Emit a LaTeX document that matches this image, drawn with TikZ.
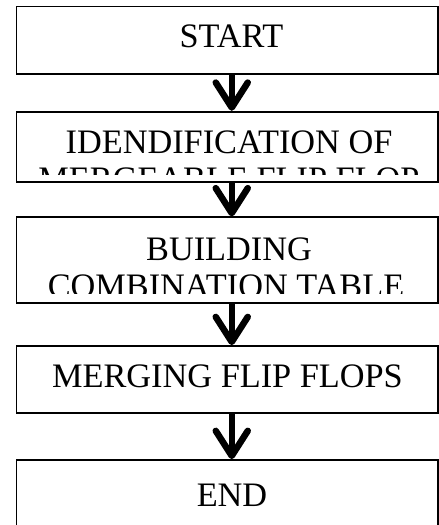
\documentclass[tikz,border=0pt]{standalone}
\usepackage{fontspec}
\setmainfont{Liberation Serif}
\usetikzlibrary{arrows.meta}
\begin{document}
\begin{tikzpicture}[x=1pt,y=-1pt,
  box/.style={draw, line width=1.8pt, minimum width=421.5pt, inner sep=0pt},
  lbl/.style={font=\fontsize{34.3}{37}\selectfont, inner sep=0pt, anchor=base},
  flow/.style={line width=6.5pt, -{Straight Barb[length=25pt,width=32pt,round]}}]
\useasboundingbox (0,0) rectangle (439,525);
\node[box, minimum height=67.5pt] (b1) at (227.25,40.25) {};
\node[box, minimum height=70pt] (b2) at (227.25,146.7) {};
\node[box, minimum height=85.4pt] (b3) at (227.25,260) {};
\node[box, minimum height=67.3pt] (b4) at (227.25,379.7) {};
\node[box, minimum height=80pt] (b5) at (227.25,500) {};
\node[lbl] (t1) at (231.5,47.7) {START};
\begin{scope}
  \clip (b2.north west) rectangle ([yshift=8pt]b2.south east);
  \node[lbl] (t2a) at (229,153.3) {IDENDIFICATION OF};
  \node[lbl] (t2b) at (229,190.5) {MERGEABLE FLIP FLOP};
\end{scope}
\begin{scope}
  \clip (b3.north west) rectangle ([yshift=10.5pt]b3.south east);
  \node[lbl] (t3a) at (229,260) {BUILDING};
  \node[lbl] (t3b) at (226,297) {COMBINATION TABLE};
\end{scope}
\node[lbl] (t4) at (227.5,387.3) {MERGING FLIP FLOPS};
\node[lbl] (t5) at (232,506) {END};
\foreach \a/\b in {b1/b2,b2/b3,b3/b4,b4/b5}
  \draw[flow] ([xshift=4.5pt]\a.south) -- ([xshift=4.5pt]\b.north);
\end{tikzpicture}
\end{document}
